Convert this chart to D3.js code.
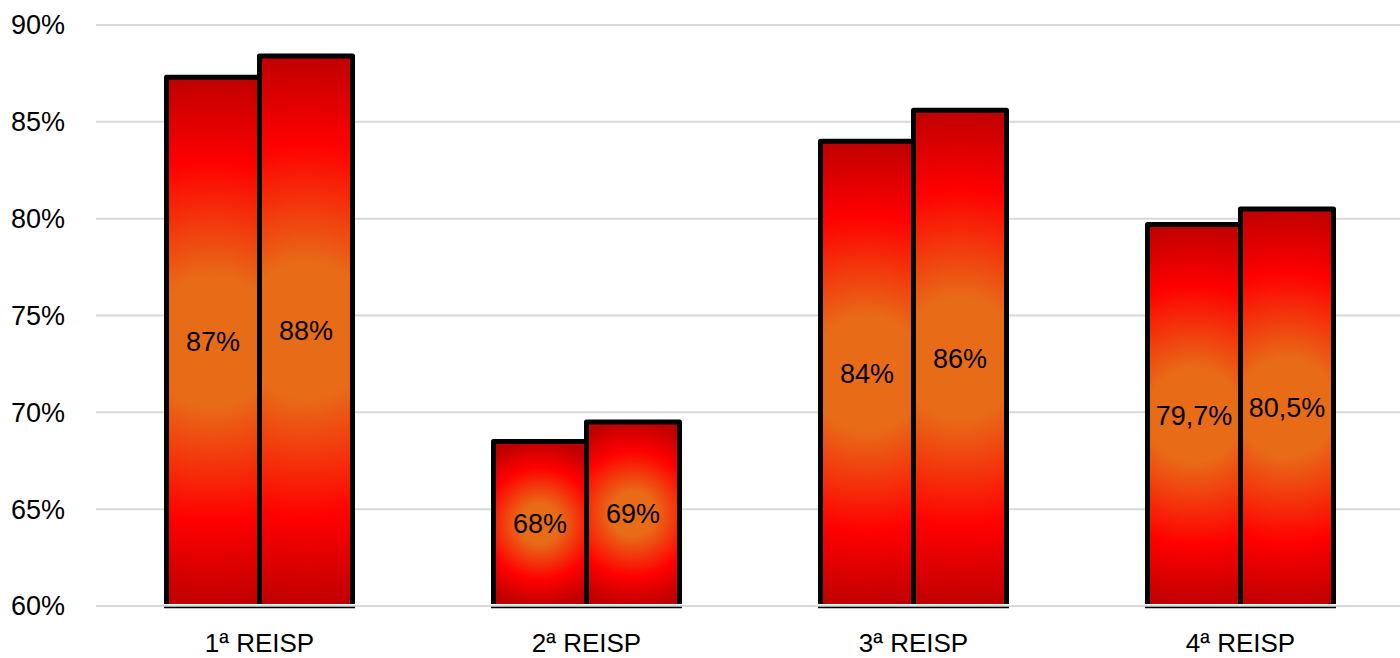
<!DOCTYPE html>
<html>
<head>
<meta charset="utf-8">
<script src="https://cdn.jsdelivr.net/npm/d3@7"></script>
<style>
  html, body { margin: 0; padding: 0; background: #fff; }
  svg { display: block; font-family: "Liberation Sans", Arial, sans-serif; }
</style>
</head>
<body>
<div id="chart"></div>
<script>
// chart data
const categories = ["1ª REISP", "2ª REISP", "3ª REISP", "4ª REISP"];
const seriesA = [87.3, 68.5, 84.0, 79.7];
const seriesB = [88.4, 69.5, 85.6, 80.5];
const labelsA = ["87%", "68%", "84%", "79,7%"];
const labelsB = ["88%", "69%", "86%", "80,5%"];
const yTicks = [60, 65, 70, 75, 80, 85, 90];

const width = 1400, height = 658;
const svg = d3.select("#chart").append("svg")
    .attr("width", width)
    .attr("height", height);

const x = d3.scaleBand().domain(categories).range([96, 1404]).padding(0);
const y = d3.scaleLinear().domain([60, 90]).range([606, 25]);
const groupW = 186;
const inner = d3.scaleBand().domain([0, 1]).range([0, groupW]).padding(0);

// gridlines
svg.append("g")
    .selectAll("line")
    .data(yTicks)
    .join("line")
    .attr("x1", 96)
    .attr("x2", width)
    .attr("y1", d => y(d))
    .attr("y2", d => y(d))
    .attr("stroke", "#d9d9d9")
    .attr("stroke-width", 2);

// y labels
svg.append("g")
    .selectAll("text")
    .data(yTicks)
    .join("text")
    .attr("x", 65)
    .attr("y", d => y(d))
    .attr("dy", "0.35em")
    .attr("text-anchor", "end")
    .attr("font-size", 27)
    .attr("fill", "#000")
    .text(d => d + "%");

// flatten bars
const bars = [];
categories.forEach((c, i) => {
    bars.push({cat: c, s: 0, v: seriesA[i], label: labelsA[i]});
    bars.push({cat: c, s: 1, v: seriesB[i], label: labelsB[i]});
});
bars.forEach((b, i) => {
    b.x0 = x(b.cat) + (x.bandwidth() - groupW) / 2 + inner(b.s);
    b.w = inner.bandwidth();
    b.top = y(b.v);
    b.bottom = y(60);
    b.id = "grad" + i;
});

const defs = svg.append("defs");
// radial gradient per bar: circle of radius half-height around bar centre
bars.forEach(b => {
    const h = b.bottom - b.top;
    const g = defs.append("radialGradient")
        .attr("id", b.id)
        .attr("gradientUnits", "userSpaceOnUse")
        .attr("cx", b.x0 + b.w / 2)
        .attr("cy", b.top + h / 2)
        .attr("r", h / 2);
    g.append("stop").attr("offset", 0).attr("stop-color", "#e86c18");
    g.append("stop").attr("offset", 0.24).attr("stop-color", "#e86c18");
    g.append("stop").attr("offset", 0.68).attr("stop-color", "#ff0000");
    g.append("stop").attr("offset", 1).attr("stop-color", "#c00000");
});
defs.append("clipPath").attr("id", "plotClip")
    .append("rect")
    .attr("x", 0).attr("y", 0)
    .attr("width", width)
    .attr("height", y(60) - 2);

const barG = svg.append("g").attr("clip-path", "url(#plotClip)");
barG.selectAll("rect")
    .data(bars)
    .join("rect")
    .attr("x", d => d.x0)
    .attr("y", d => d.top)
    .attr("width", d => d.w)
    .attr("height", d => d.bottom - d.top + 10)
    .attr("fill", d => `url(#${d.id})`)
    .attr("stroke", "#000")
    .attr("stroke-width", 5)
    .attr("stroke-linejoin", "round");

// axis base under each group
svg.append("g")
    .selectAll("line")
    .data(categories)
    .join("line")
    .attr("x1", d => x(d) + (x.bandwidth() - groupW) / 2 - 2.5)
    .attr("x2", d => x(d) + (x.bandwidth() + groupW) / 2 + 2.5)
    .attr("y1", y(60) + 1.5)
    .attr("y2", y(60) + 1.5)
    .attr("stroke", "#000")
    .attr("stroke-width", 1.5);

// data labels
svg.append("g")
    .selectAll("text")
    .data(bars)
    .join("text")
    .attr("x", d => d.x0 + d.w / 2)
    .attr("y", d => (d.top + d.bottom) / 2)
    .attr("dy", "0.35em")
    .attr("text-anchor", "middle")
    .attr("font-size", 27)
    .attr("fill", "#000")
    .text(d => d.label);

// category labels
svg.append("g")
    .selectAll("text")
    .data(categories)
    .join("text")
    .attr("x", d => x(d) + x.bandwidth() / 2)
    .attr("y", 652)
    .attr("text-anchor", "middle")
    .attr("font-size", 26)
    .attr("fill", "#000")
    .text(d => d);
</script>
</body>
</html>
